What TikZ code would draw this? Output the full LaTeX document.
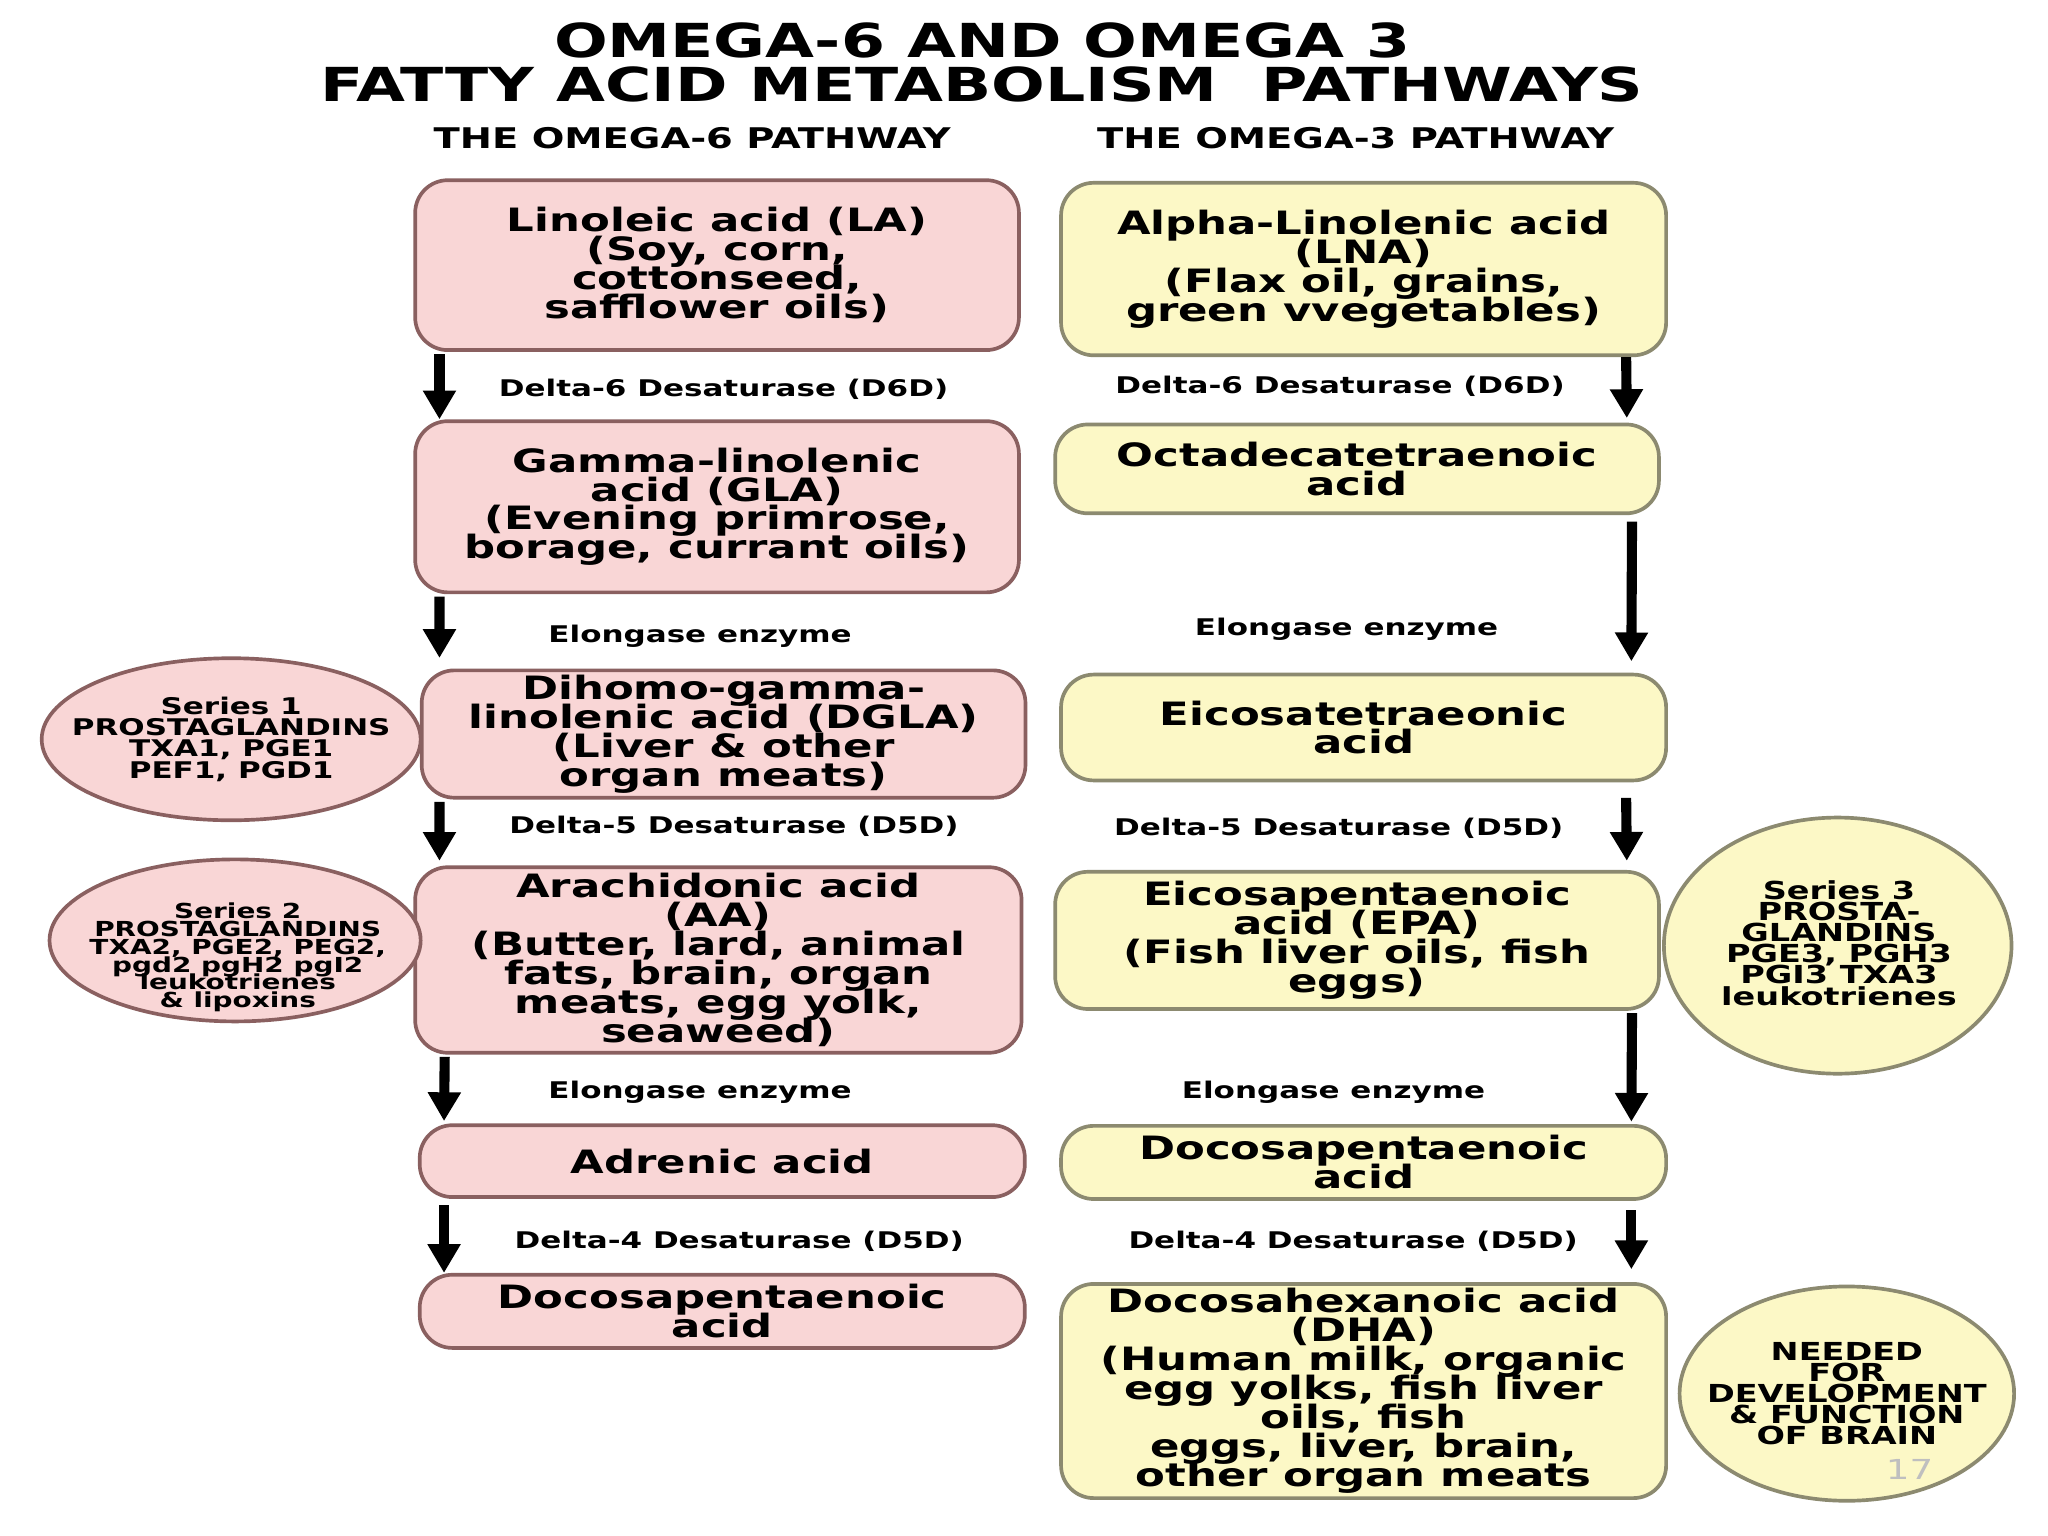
\documentclass[tikz,border=0pt]{standalone}
\usepackage{fontspec}
\setmainfont{DejaVu Sans}[FakeStretch=1.35]
\usetikzlibrary{arrows.meta,shapes.geometric}
\definecolor{pinkf}{HTML}{F9D6D6}
\definecolor{pinkd}{HTML}{8A6060}
\definecolor{yelf}{HTML}{FCF8C6}
\definecolor{yeld}{HTML}{8C8A70}
\newcommand{\tightf}[2]{\bfseries\fontsize{#1}{#2}\selectfont\lineskiplimit=-20pt\lineskip=0pt}
\tikzset{
 pbox/.style={draw=pinkd,fill=pinkf,line width=0.8pt,rounded corners=0.25cm,align=center,font=\tightf{7}{6.3},inner sep=1pt},
 ybox/.style={draw=yeld,fill=yelf,line width=0.8pt,rounded corners=0.25cm,align=center,font=\tightf{7}{6.3},inner sep=1pt},
 pell/.style={ellipse,draw=pinkd,fill=pinkf,line width=0.8pt,inner sep=0pt},
 yell/.style={ellipse,draw=yeld,fill=yelf,line width=0.8pt,inner sep=0pt},
 etxt/.style={align=center,inner sep=0pt},
 arr/.style={line width=2.2pt,-{Triangle[length=0.22cm,width=0.24cm]}},
 lab/.style={font=\bfseries\fontsize{5}{5}\selectfont},
 hd/.style={font=\bfseries\fontsize{6.2}{6}\selectfont},
 ttl/.style={font=\bfseries\fontsize{10.2}{10}\selectfont,inner sep=0pt}
}
\begin{document}
\begin{tikzpicture}[x=0.01cm,y=-0.01cm]
\useasboundingbox[fill=white] (0,0) rectangle (1568,1176);
\node[ttl] (t1) at (752,31) {OMEGA-6 AND OMEGA 3};
\node[ttl] (t2) at (752,65) {FATTY ACID METABOLISM \ PATHWAYS};
\node[hd] (h1) at (530,106) {THE OMEGA-6 PATHWAY};
\node[hd] (h2) at (1038,106) {THE OMEGA-3 PATHWAY};
% left
\node[pbox,minimum width=4.62cm,minimum height=1.3cm] (la) at (549,203) {Linoleic acid (LA)\\(Soy, corn,\\cottonseed,\\safflower oils)};
\node[pbox,minimum width=4.62cm,minimum height=1.31cm] (gla) at (549,388) {Gamma-linolenic\\acid (GLA)\\(Evening primrose,\\borage, currant oils)};
\node[pbox,minimum width=4.62cm,minimum height=0.93cm] (dgla) at (554,562) {Dihomo-gamma-\\linolenic acid (DGLA)\\(Liver \& other\\organ meats)};
\node[pbox,minimum width=4.64cm,minimum height=1.42cm] (aa) at (550,735) {Arachidonic acid\\(AA)\\(Butter, lard, animal\\fats, brain, organ\\meats, egg yolk,\\seaweed)};
\node[pbox,minimum width=4.63cm,minimum height=0.55cm] (adr) at (553,889) {Adrenic acid};
\node[pbox,minimum width=4.63cm,minimum height=0.56cm] (dpal) at (553,1004) {Docosapentaenoic\\acid};
% right
\node[ybox,minimum width=4.63cm,minimum height=1.32cm] (lna) at (1044,206) {Alpha-Linolenic acid\\(LNA)\\(Flax oil, grains,\\green vvegetables)};
\node[ybox,minimum width=4.62cm,minimum height=0.68cm] (oct) at (1039,359) {Octadecatetraenoic\\acid};
\node[ybox,minimum width=4.63cm,minimum height=0.81cm] (eic) at (1044,557) {Eicosatetraeonic\\acid};
\node[ybox,minimum width=4.62cm,minimum height=1.05cm] (epa) at (1039,720) {Eicosapentaenoic\\acid (EPA)\\(Fish liver oils, fish\\eggs)};
\node[ybox,minimum width=4.63cm,minimum height=0.56cm] (dpar) at (1044,890) {Docosapentaenoic\\acid};
\node[ybox,minimum width=4.63cm,minimum height=1.6cm] (dha) at (1044,1065) {Docosahexanoic acid\\(DHA)\\(Human milk, organic\\egg yolks, fish liver\\oils, fish\\eggs, liver, brain,\\other organ meats};
% ellipses
\node[pell,minimum width=2.9cm,minimum height=1.24cm] (s1) at (177,566) {};
\node[etxt,font=\tightf{5}{4.6}] (s1t) at (s1) {Series 1\\PROSTAGLANDINS\\TXA1, PGE1\\PEF1, PGD1};
\node[pell,minimum width=2.84cm,minimum height=1.24cm] (s2) at (180,720) {};
\node[etxt,font=\tightf{4.5}{3.9}] (s2t) at (182,733) {Series 2\\PROSTAGLANDINS\\TXA2, PGE2, PEG2,\\pgd2 pgH2 pgI2\\leukotrienes\\\& lipoxins};
\node[yell,minimum width=2.66cm,minimum height=1.96cm] (s3) at (1407,724) {};
\node[etxt,font=\tightf{5.4}{4.6}] (s3t) at (1408,722) {Series 3\\PROSTA-\\GLANDINS\\PGE3, PGH3\\PGI3 TXA3\\leukotrienes};
\node[yell,minimum width=2.56cm,minimum height=1.64cm] (br) at (1414,1067) {};
\node[etxt,font=\tightf{5.4}{4.6}] (brt) at (1414,1067) {NEEDED\\FOR\\DEVELOPMENT\\\& FUNCTION\\OF BRAIN};
% arrows left
\draw[arr] ([xshift=0.2cm,yshift=-0.5pt]la.south west) -- ([xshift=0.2cm]gla.north west);
\draw[arr] ([xshift=0.2cm,yshift=-0.5pt]gla.south west) -- ([xshift=0.15cm,yshift=2.3pt]dgla.north west);
\draw[arr] ([xshift=0.15cm,yshift=-0.5pt]dgla.south west) -- ([xshift=0.2cm,yshift=1pt]aa.north west);
\draw[arr] ([xshift=0.24cm,yshift=-0.5pt]aa.south west) -- ([xshift=0.2cm,yshift=0.5pt]adr.north west);
\draw[arr] ([xshift=0.2cm,yshift=-1.4pt]adr.south west) -- ([xshift=0.2cm]dpal.north west);
% arrows right
\draw[arr] ([xshift=-0.32cm]lna.south east) -- ([xshift=-0.26cm,yshift=1pt]oct.north east);
\draw[arr] ([xshift=-0.22cm,yshift=-1.4pt]oct.south east) -- ([xshift=-0.28cm,yshift=2.5pt]eic.north east);
\draw[arr] ([xshift=-0.32cm,yshift=-3.4pt]eic.south east) -- ([xshift=-0.26cm,yshift=2pt]epa.north east);
\draw[arr] ([xshift=-0.22cm,yshift=-0.5pt]epa.south east) -- ([xshift=-0.28cm,yshift=0.5pt]dpar.north east);
\draw[arr] ([xshift=-0.28cm,yshift=-2pt]dpar.south east) -- ([xshift=-0.28cm,yshift=2.8pt]dha.north east);
% labels
\node[lab] (l1) at (554,298) {Delta-6 Desaturase (D6D)};
\node[lab] (r1) at (1026,296) {Delta-6 Desaturase (D6D)};
\node[lab] (l2) at (536,487) {Elongase enzyme};
\node[lab] (r2) at (1031,482) {Elongase enzyme};
\node[lab] (l3) at (562,633) {Delta-5 Desaturase (D5D)};
\node[lab] (r3) at (1025,634) {Delta-5 Desaturase (D5D)};
\node[lab] (l4) at (536,836) {Elongase enzyme};
\node[lab] (r4) at (1021,836) {Elongase enzyme};
\node[lab] (l5) at (566,950) {Delta-4 Desaturase (D5D)};
\node[lab] (r5) at (1036,950) {Delta-4 Desaturase (D5D)};
\node[font=\fontsize{6}{6}\selectfont,text=black!25] (pg) at (1462,1125) {17};
\end{tikzpicture}
\end{document}
